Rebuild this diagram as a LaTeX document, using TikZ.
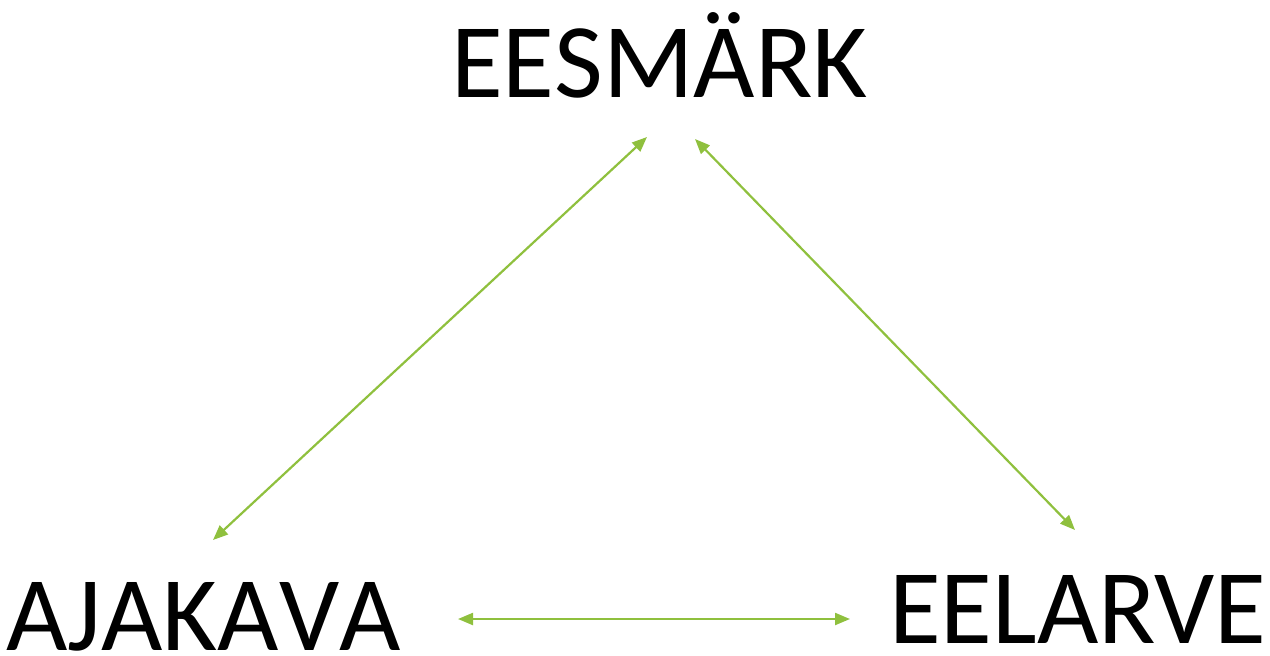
\documentclass[tikz,border=0pt]{standalone}
\usepackage{fontspec}
\setmainfont{Carlito}[Kerning=Off]
\usetikzlibrary{arrows.meta}
\definecolor{linkgreen}{RGB}{143,192,62}
\tikzset{
  word/.style={anchor=base west, inner sep=0pt, text depth=0pt, font=\fontsize{106}{120}\selectfont},
  link/.style={draw=linkgreen, line width=2.2pt, {Triangle[length=15pt,width=12pt]}-{Triangle[length=15pt,width=12pt]}}
}
\begin{document}
\begin{tikzpicture}[x=1pt,y=-1pt]
\useasboundingbox (0,0) rectangle (1270,656);
\node[word] (ees) at (451,97) {EESMÄRK};
\node[word] (aja) at (6,650) {AJAKAVA};
\node[word, font=\fontsize{106}{120}\selectfont\addfontfeatures{Kerning=On}] (eel) at (889,643) {EELARVE};
\coordinate (e1) at (647,137);
\coordinate (a1) at (213,540);
\coordinate (e2) at (695,139);
\coordinate (l1) at (1075,530);
\coordinate (a2) at (458,619);
\coordinate (l2) at (850,619);
\draw[link] (e1) -- (a1);
\draw[link] (e2) -- (l1);
\draw[link] (a2) -- (l2);
\end{tikzpicture}
\end{document}
